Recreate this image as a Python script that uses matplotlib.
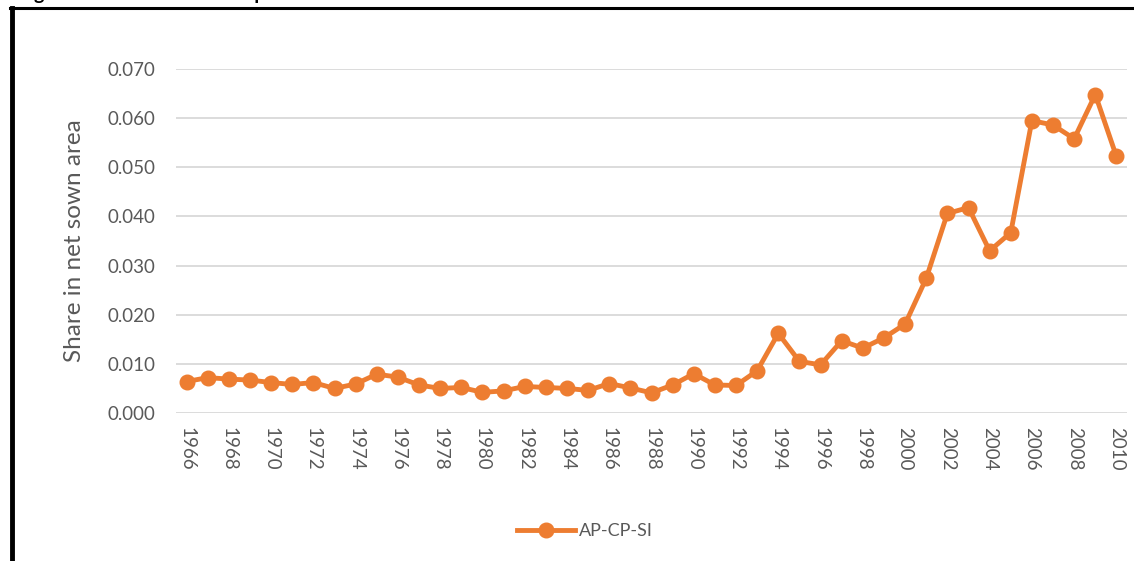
import matplotlib.pyplot as plt
from matplotlib.lines import Line2D

# share of net sown area under AP-CP-SI, 1966-2010
years = list(range(1966, 2011))
share = [0.0064, 0.0072, 0.0069, 0.0067, 0.0062, 0.0058, 0.0062, 0.0050, 0.0059, 0.0079,
         0.0073, 0.0057, 0.0050, 0.0052, 0.0042, 0.0045, 0.0054, 0.0052, 0.0050, 0.0046,
         0.0060, 0.0051, 0.0041, 0.0057, 0.0080, 0.0057, 0.0056, 0.0086, 0.0162, 0.0105,
         0.0098, 0.0147, 0.0132, 0.0153, 0.0181, 0.0274, 0.0406, 0.0418, 0.0330, 0.0367,
         0.0595, 0.0586, 0.0558, 0.0648, 0.0522]
yticks = [0.0, 0.01, 0.02, 0.03, 0.04, 0.05, 0.06, 0.07]
series_name = "AP-CP-SI"

ORANGE = "#ED7D31"
GREY_TXT = "#595959"
GRID = "#D9D9D9"

plt.rcParams['font.family'] = ['Lato', 'DejaVu Sans']

fig = plt.figure(figsize=(11.34, 5.61), dpi=100)
ax = fig.add_axes([176/1134, 1 - 413/561, (1127 - 176)/1134, (413 - 69)/561])

ax.plot(years, share, color=ORANGE, lw=3.5, marker='o', ms=10.5,
        solid_joinstyle='round', label=series_name, zorder=3)

ax.set_xlim(1965.5, 2010.5)
ax.set_ylim(0, 0.07)
ax.set_yticks(yticks)
ax.set_yticklabels([f"{v:.3f}" for v in yticks])
ax.set_xticks(years[::2])
ax.set_xticklabels([str(y) for y in years[::2]], rotation=270)
ax.tick_params(axis='both', length=0, colors=GREY_TXT, labelsize=13.5)
ax.tick_params(axis='y', pad=15)
ax.tick_params(axis='x', pad=10)
ax.grid(axis='y', color=GRID, lw=1.3)
ax.set_axisbelow(True)
for s in ax.spines.values():
    s.set_visible(False)

ax.set_ylabel("Share in net sown area", fontsize=17.5, color=GREY_TXT, labelpad=16)

ax.legend(loc='center', bbox_to_anchor=(585/1134, 1 - 531/561),
          bbox_transform=fig.transFigure, frameon=False, fontsize=13,
          labelcolor=GREY_TXT, handlelength=3.2, handletextpad=0.2)

# figure frame (page border) and caption, cut off by the top edge as in the page crop
fig.add_artist(Line2D([12/1134, 12/1134], [0, 1 - 8/561], color='black', lw=3.5,
                      transform=fig.transFigure, solid_capstyle='projecting'))
fig.add_artist(Line2D([10/1134, 1], [1 - 8/561, 1 - 8/561], color='black', lw=2.2,
                      transform=fig.transFigure))
fig.text(18/1134, 1.0, "Figure 4.10: Trends in the spread of AP-CP-SI area", fontsize=14,
         fontweight='bold', va='baseline', ha='left')

fig.savefig("out.png", dpi=100)
